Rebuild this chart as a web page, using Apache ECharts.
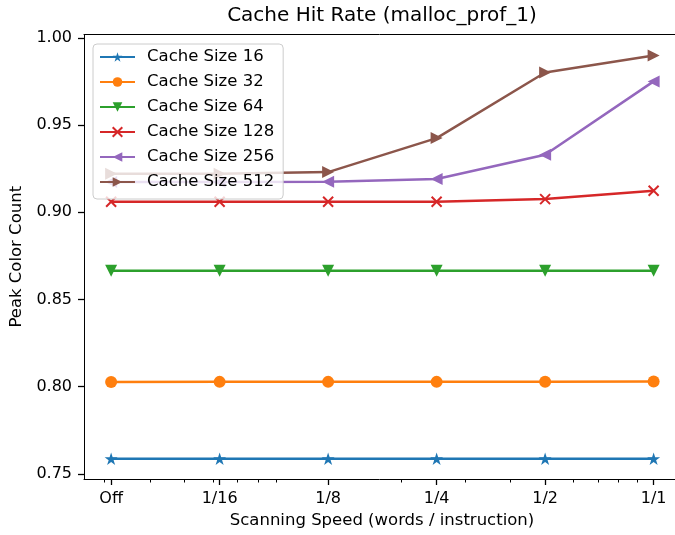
<!DOCTYPE html>
<html>
<head>
<meta charset="utf-8">
<script src="https://cdn.jsdelivr.net/npm/echarts@6/dist/echarts.min.js"></script>
<style>html,body{margin:0;padding:0;background:#fff;overflow:hidden}#c{width:675px;height:535px}</style>
</head>
<body>
<div id="c"></div>
<script>
// ---- data ----
var speedLabels = ['Off', '1/16', '1/8', '1/4', '1/2', '1/1'];
var speeds = [1/32, 1/16, 1/8, 1/4, 1/2, 1];
var minorTickValues = [0.03, 0.04, 0.05, 0.06, 0.07, 0.08, 0.09, 0.2, 0.3, 0.4, 0.6, 0.7, 0.8, 0.9];
var yTickValues = [0.75, 0.80, 0.85, 0.90, 0.95, 1.00];
var seriesNames = ['Cache Size 16', 'Cache Size 32', 'Cache Size 64', 'Cache Size 128', 'Cache Size 256', 'Cache Size 512'];
var hit16  = [0.7586, 0.7586, 0.7586, 0.7586, 0.7586, 0.7586];
var hit32  = [0.8026, 0.8027, 0.8027, 0.8027, 0.8028, 0.8029];
var hit64  = [0.8664, 0.8664, 0.8664, 0.8664, 0.8664, 0.8664];
var hit128 = [0.9060, 0.9060, 0.9060, 0.9060, 0.9075, 0.9123];
var hit256 = [0.9173, 0.9173, 0.9175, 0.9190, 0.9329, 0.9750];
var hit512 = [0.9220, 0.9220, 0.9230, 0.9425, 0.9801, 0.9899];

var colors = ['#1f77b4', '#ff7f0e', '#2ca02c', '#d62728', '#9467bd', '#8c564b'];
var starPath = 'path://M0 -100 L-22.45 -30.9 L-95.1 -30.9 L-36.3 11.8 L-58.8 80.9 L0 38.2 L58.8 80.9 L36.3 11.8 L95.1 -30.9 L22.45 -30.9 Z';
var xPath = 'path://M0 0 L10 10 M10 0 L0 10';
var font = 'DejaVu Sans';
var allData = [hit16, hit32, hit64, hit128, hit256, hit512];
var markers = [
  {symbol: starPath, size: 13, rotate: 0},
  {symbol: 'circle', size: 12, rotate: 0},
  {symbol: 'triangle', size: 12, rotate: 180},
  {symbol: xPath, size: 10, rotate: 0},
  {symbol: 'triangle', size: 12, rotate: 90},
  {symbol: 'triangle', size: 12, rotate: -90}
];
function labelFor(v) {
  for (var i = 0; i < speeds.length; i++) {
    if (Math.abs(v - speeds[i]) / speeds[i] < 1e-4) return speedLabels[i];
  }
  return '';
}
var series = allData.map(function (d, i) {
  var m = markers[i];
  return {
    name: seriesNames[i], type: 'line', xAxisIndex: 0,
    data: d.map(function (v, j) { return [speeds[j], v]; }),
    symbol: m.symbol, symbolSize: m.size, symbolRotate: m.rotate, symbolKeepAspect: true,
    lineStyle: {color: colors[i], width: 2.5},
    itemStyle: i === 3 ? {color: colors[i], borderColor: colors[i], borderWidth: 2} : {color: colors[i], borderWidth: 0},
    emphasis: {disabled: true}, z: 2
  };
});
var xMin = Math.pow(2, -5.25), xMax = Math.pow(2, 0.197);
var axisFont = {fontFamily: font, fontSize: 16.5, color: '#000'};

var chart = echarts.init(document.getElementById('c'), null, {renderer: 'canvas'});
chart.setOption({
  animation: false, backgroundColor: '#fff', color: colors,
  title: {text: 'Cache Hit Rate (malloc_prof_1)', left: 382, top: 6, textAlign: 'center', padding: 0,
    textStyle: {fontFamily: font, fontSize: 20, fontWeight: 'normal', color: '#000'}},
  grid: {left: 84, right: 0, top: 34.5, bottom: 56, show: false},
  legend: {orient: 'vertical', left: 93, top: 44, padding: [4.5, 9, 8.5, 6],
    itemWidth: 35, itemHeight: 12, itemGap: 8,
    backgroundColor: 'rgba(255,255,255,0.8)', borderColor: '#cccccc', borderWidth: 1, borderRadius: 4,
    textStyle: {fontFamily: font, fontSize: 16.5, color: '#000', lineHeight: 17, padding: [0, 0, 0, 7]},
    data: seriesNames, selectedMode: false, zlevel: 1, z: 10},
  xAxis: [{type: 'log', logBase: 2, min: xMin, max: xMax, position: 'bottom',
    name: 'Scanning Speed (words / instruction)', nameLocation: 'middle', nameGap: 33,
    nameTextStyle: {fontFamily: font, fontSize: 16.5, color: '#000', padding: [0, 0, 0, 5]},
    axisLine: {show: true, lineStyle: {color: '#000', width: 1}},
    axisTick: {show: true, length: 6, lineStyle: {color: '#000', width: 1.3}, customValues: speeds},
    axisLabel: {show: true, margin: 12, fontFamily: font, fontSize: 16, color: '#000', customValues: speeds, formatter: function (v) { return labelFor(v); }},
    splitLine: {show: false}},
   {type: 'log', logBase: 2, min: xMin, max: xMax, position: 'bottom',
    axisLine: {show: false},
    axisTick: {show: true, length: 3.5, lineStyle: {color: '#000', width: 1}, customValues: minorTickValues},
    axisLabel: {show: false}, splitLine: {show: false}},
   {type: 'value', min: 0, max: 1, position: 'top',
    axisLine: {show: true, lineStyle: {color: '#000', width: 1}}, axisTick: {show: false}, axisLabel: {show: false}, splitLine: {show: false}}],
  yAxis: {type: 'value', min: 0.747, max: 1.0019, name: 'Peak Color Count', nameLocation: 'middle', nameGap: 49,
    nameTextStyle: axisFont,
    axisLine: {show: true, lineStyle: {color: '#000', width: 1}},
    axisTick: {show: true, length: 6, lineStyle: {color: '#000', width: 1.3}, customValues: yTickValues},
    axisLabel: {show: true, margin: 12, fontFamily: font, fontSize: 16, color: '#000', customValues: yTickValues, formatter: function (v) { return v.toFixed(2); }},
    splitLine: {show: false}},
  series: series
});
</script>
</body>
</html>
